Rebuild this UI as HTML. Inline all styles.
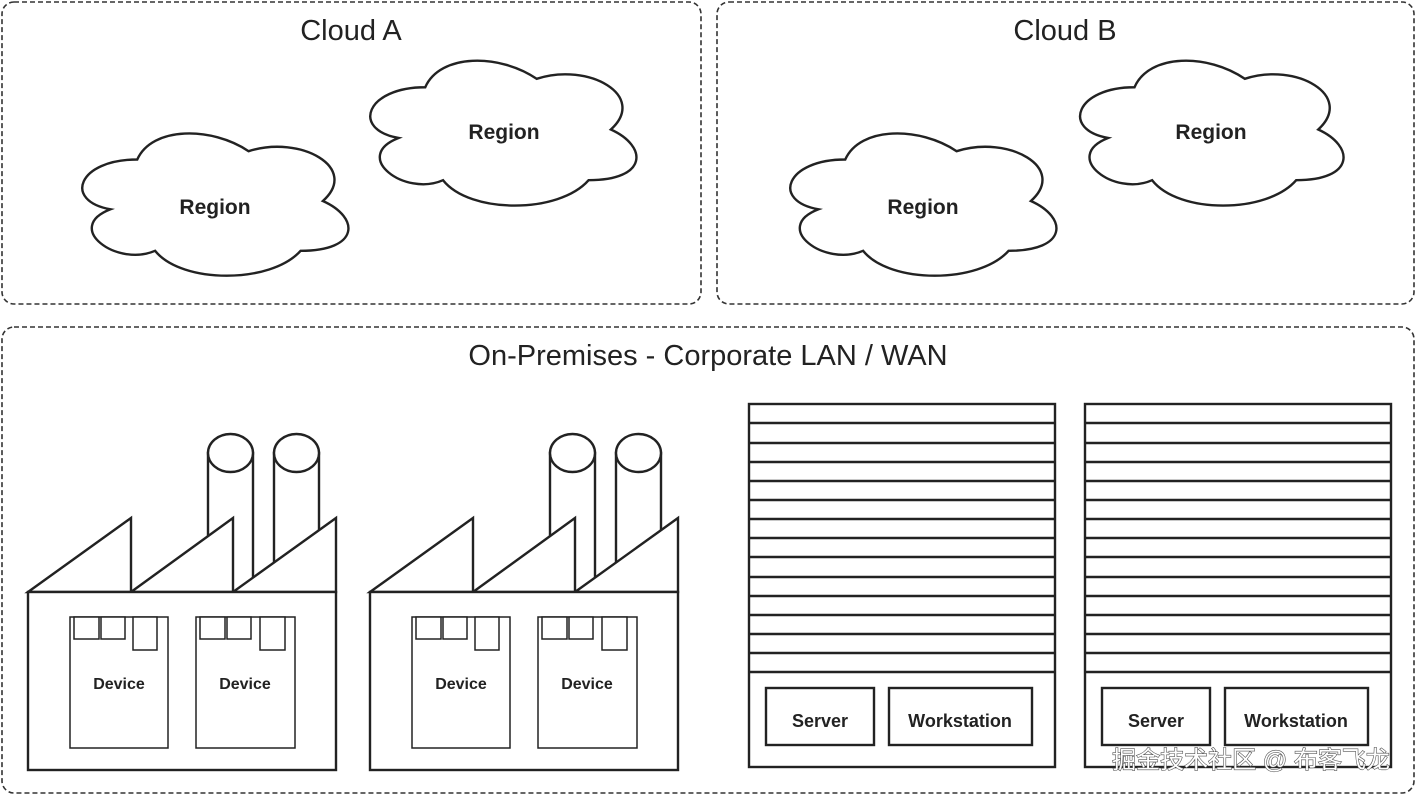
<!DOCTYPE html>
<html><head><meta charset="utf-8"><style>
html,body{margin:0;padding:0;background:#fff;}
svg{display:block;font-family:"Liberation Sans",Arial,sans-serif;}
</style></head><body>
<svg width="1417" height="795" viewBox="0 0 1417 795" xmlns="http://www.w3.org/2000/svg">
<defs>
<g id="cloud">
<path d="M 0.25 0.25 C 0.05 0.25 0 0.5 0.16 0.55 C 0 0.66 0.18 0.9 0.31 0.8 C 0.4 1 0.7 1 0.8 0.8 C 1 0.8 1 0.6 0.875 0.5 C 1 0.3 0.8 0.1 0.625 0.2 C 0.5 0.05 0.3 0.05 0.25 0.25 Z" fill="#fff" stroke="#222" stroke-width="2.4" vector-effect="non-scaling-stroke"/>
</g>
<g id="factory" fill="#fff" stroke="#222" stroke-width="2.4">
<rect x="208" y="453" width="45" height="140"/>
<ellipse cx="230.5" cy="453" rx="22.5" ry="19"/>
<rect x="274" y="453" width="45" height="140"/>
<ellipse cx="296.5" cy="453" rx="22.5" ry="19"/>
<polygon points="28,592 131,518 131,592"/>
<polygon points="131,592 233,518 233,592"/>
<polygon points="233,592 336,518 336,592"/>
<rect x="28" y="592" width="308" height="178"/>
<g stroke-width="1.5">
<rect x="70" y="617" width="98" height="131"/>
<rect x="74" y="617" width="25" height="22"/>
<rect x="101" y="617" width="24" height="22"/>
<rect x="133" y="617" width="24" height="33"/>
<rect x="196" y="617" width="99" height="131"/>
<rect x="200" y="617" width="25" height="22"/>
<rect x="227" y="617" width="24" height="22"/>
<rect x="260" y="617" width="25" height="33"/>
</g>
</g>
<g id="rack" fill="#fff" stroke="#222" stroke-width="2.4">
<rect x="749" y="404" width="306" height="363"/>
<path d="M749 423H1055M749 443H1055M749 462H1055M749 481H1055M749 500H1055M749 519H1055M749 538H1055M749 557H1055M749 577H1055M749 596H1055M749 615H1055M749 634H1055M749 653H1055M749 672H1055"/>
<rect x="766" y="688" width="108" height="57"/>
<rect x="889" y="688" width="143" height="57"/>
</g>
</defs>

<g fill="none" stroke="#333" stroke-width="1.6" stroke-dasharray="5,3">
<rect x="2" y="2" width="699" height="302" rx="12"/>
<rect x="717" y="2" width="697" height="302" rx="12"/>
<rect x="2" y="327" width="1412" height="466" rx="12"/>
</g>

<g fill="#222" font-size="29" text-anchor="middle">
<text x="351" y="40">Cloud A</text>
<text x="1065" y="40">Cloud B</text>
<text x="708" y="365">On-Premises - Corporate LAN / WAN</text>
</g>

<use href="#cloud" transform="translate(63,118) scale(297,166)"/>
<use href="#cloud" transform="translate(351,45) scale(297,169)"/>
<use href="#cloud" transform="translate(771,118) scale(297,166)"/>
<use href="#cloud" transform="translate(1061,45) scale(294,169)"/>
<g fill="#222" font-size="21" font-weight="bold" text-anchor="middle">
<text x="215" y="214">Region</text>
<text x="504" y="139">Region</text>
<text x="923" y="214">Region</text>
<text x="1211" y="139">Region</text>
</g>

<use href="#factory"/>
<use href="#factory" transform="translate(342,0)"/>
<use href="#rack"/>
<use href="#rack" transform="translate(336,0)"/>

<g fill="#222" font-size="16" font-weight="bold" text-anchor="middle">
<text x="119" y="689">Device</text>
<text x="245" y="689">Device</text>
<text x="461" y="689">Device</text>
<text x="587" y="689">Device</text>
<text x="820" y="727" font-size="18">Server</text>
<text x="960" y="727" font-size="18">Workstation</text>
<text x="1156" y="727" font-size="18">Server</text>
<text x="1296" y="727" font-size="18">Workstation</text>
</g>

<text x="1251" y="768" text-anchor="middle" font-family="'Liberation Sans','Noto Sans CJK SC',sans-serif" font-size="24" fill="#fff" stroke="#555" stroke-width="1.2" paint-order="stroke">掘金技术社区 @ 布客飞龙</text>
</svg>
</body></html>
